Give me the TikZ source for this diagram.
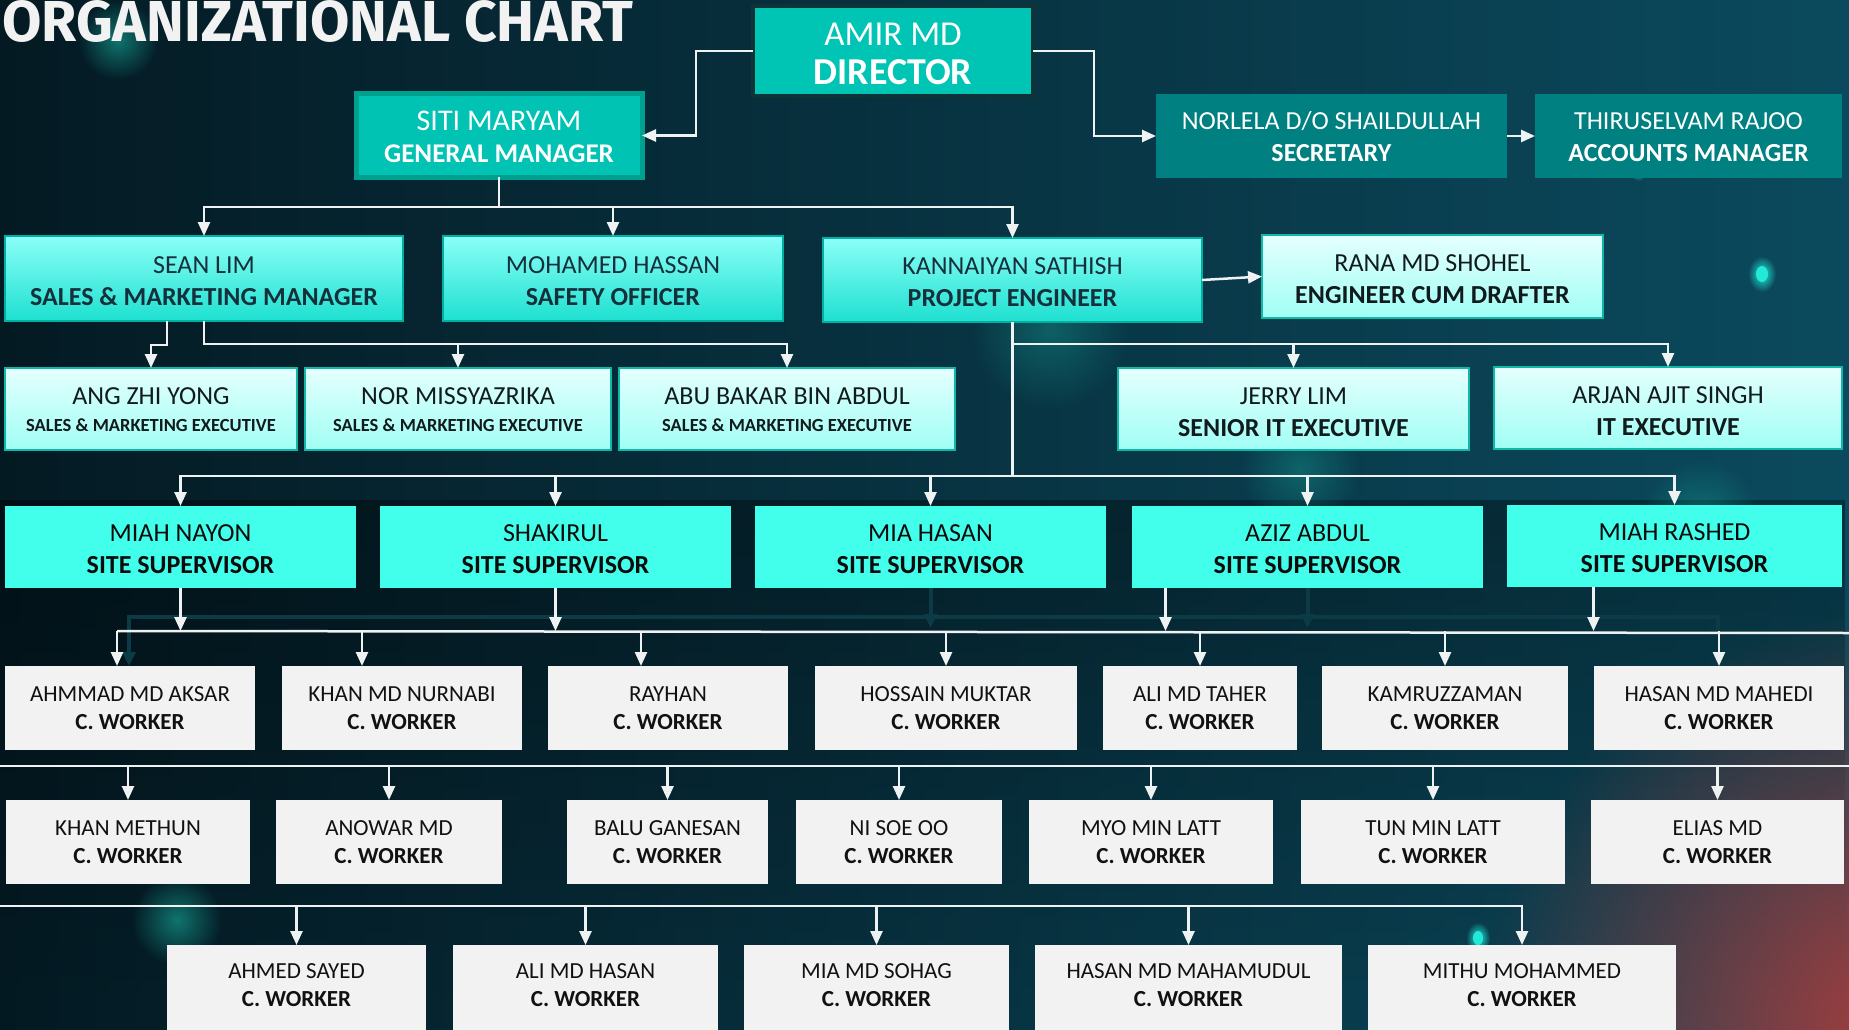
\documentclass[tikz,border=0pt]{standalone}
\usepackage{fontspec}
\usepackage{graphicx}
\setmainfont{Carlito}
\newfontfamily\titlefont{Fira Sans}
\usetikzlibrary{arrows.meta,fadings,calc}
\definecolor{bgL}{HTML}{041A23}
\definecolor{bgR}{HTML}{0B4A5E}
\definecolor{dirF}{HTML}{00C4B4}
\definecolor{dirD}{HTML}{0E3338}
\definecolor{gmF}{HTML}{00C3B3}
\definecolor{gmD}{HTML}{00A08E}
\definecolor{secF}{HTML}{008080}
\definecolor{midT}{HTML}{8AFFF8}
\definecolor{midB}{HTML}{1EE0D0}
\definecolor{midD}{HTML}{00B0A0}
\definecolor{midText}{HTML}{15303A}
\definecolor{litT}{HTML}{E4FFFD}
\definecolor{litB}{HTML}{A0FFF5}
\definecolor{litD}{HTML}{10B8A8}
\definecolor{litText}{HTML}{111A1C}
\definecolor{supF}{HTML}{42FFEC}
\definecolor{supText}{HTML}{0B0B0B}
\definecolor{wF}{HTML}{F2F2F2}
\definecolor{wText}{HTML}{111111}
\definecolor{lineC}{HTML}{EEF2F2}
\definecolor{shadowC}{HTML}{0C3A45}
\definecolor{glowT}{HTML}{18B0A0}
\definecolor{glowR}{HTML}{A83C3C}
\definecolor{dotC}{HTML}{22EAD8}
\tikzfading[name=glowfade, inner color=transparent!0, outer color=transparent!100]
% #1 style prefix, #2 name, #3-#6 corners, #7 name line, #8 title line
\newcommand{\mkbox}[8]{%
  \node[#1box, anchor=north west, minimum width={#5-#3}, minimum height={#6-#4}] (#2) at (#3,#4) {};
  \node[#1txt] (#2-t) at (#2.center) {#7\\#8};}
\newcommand{\extitle}{{\fontsize{18.5}{22}\selectfont\bfseries SALES \& MARKETING EXECUTIVE}}
\newcommand{\cw}{\textbf{C. WORKER}}
\begin{document}
\begin{tikzpicture}[x=1pt,y=-1pt,
  box/.style={inner sep=0pt, outer sep=0pt},
  txt/.style={inner sep=0pt, outer sep=0pt, align=center},
  dirbox/.style={box, fill=dirF, draw=dirD, line width=4pt},
  dirtxt/.style={txt, text=white, font=\fontsize{35}{39}\selectfont, yshift=-3pt},
  gmbox/.style={box, fill=gmF, draw=gmD, line width=5pt},
  gmtxt/.style={txt, text=white, font=\fontsize{30}{32}\selectfont, yshift=-1.5pt},
  secbox/.style={box, fill=secF},
  sectxt/.style={txt, text=white, font=\fontsize{26}{32}\selectfont, yshift=-1pt},
  midbox/.style={box, top color=midT, bottom color=midB, draw=midD, line width=2pt},
  midtxt/.style={txt, text=midText, font=\fontsize{26}{32}\selectfont, yshift=-2.5pt},
  litbox/.style={box, top color=litT, bottom color=litB, draw=litD, line width=2pt},
  littxt/.style={txt, text=litText, font=\fontsize{26}{32}\selectfont, yshift=-3pt},
  execbox/.style={litbox},
  exectxt/.style={txt, text=litText, font=\fontsize{26}{27}\selectfont, yshift=-0.5pt},
  supbox/.style={box, fill=supF},
  suptxt/.style={txt, text=supText, font=\fontsize{26}{32}\selectfont, yshift=-2.5pt},
  wbox/.style={box, fill=wF},
  wtxt/.style={txt, text=wText, font=\fontsize{23}{28}\selectfont},
  line/.style={draw=lineC, line width=2.5pt},
  arr/.style={line, -{Triangle[length=14pt,width=12pt]}},
  shad/.style={draw=shadowC, line width=4pt},
  shadarr/.style={shad, -{Triangle[length=14pt,width=13pt]}}
]
\useasboundingbox (0,0) rectangle (1849,1030);
\clip (0,0) rectangle (1849,1030);
% background
\shade[left color=bgL, right color=bgR] (0,0) rectangle (1849,1030);
\fill[black, fill opacity=0.35, path fading=south] (0,500) rectangle (1849,1030);
\fill[glowR, path fading=glowfade, fill opacity=1] (1900,1030) circle (420);
\fill[glowT, path fading=glowfade, fill opacity=0.6] (118,40) circle (40);
\fill[glowT, path fading=glowfade, fill opacity=0.6] (177,920) circle (45);
\fill[glowT, path fading=glowfade, fill opacity=0.35] (1300,470) circle (60);
\fill[glowT, path fading=glowfade, fill opacity=0.35] (1050,330) circle (80);
\fill[glowT, path fading=glowfade, fill opacity=0.4] (1700,520) circle (60);
\fill[dotC, path fading=glowfade] (1762,274) ellipse (14 and 18);
\fill[dotC] (1762,274) ellipse (6 and 8);
\fill[dotC, path fading=glowfade] (1638,168) ellipse (10 and 13);
\fill[dotC] (1638,168) ellipse (4 and 6);
\fill[dotC, path fading=glowfade] (1478,938) ellipse (12 and 16);
\fill[dotC] (1478,938) ellipse (5 and 7);
% title
\node[anchor=base west, inner sep=0pt, text=wF] (title) at (2,42) {\resizebox{631pt}{41pt}{\titlefont\bfseries ORGANIZATIONAL CHART}};
% boxes
\mkbox{dir}{dir}{753}{6}{1033}{96}{AMIR MD}{{\fontsize{38}{39}\selectfont\bfseries DIRECTOR}}
\mkbox{gm}{gm}{356}{94}{642}{177}{SITI MARYAM}{{\fontsize{27}{32}\selectfont\bfseries GENERAL MANAGER}}
\mkbox{sec}{sec}{1156}{94}{1507}{178}{NORLELA D/O SHAILDULLAH}{\textbf{SECRETARY}}
\mkbox{sec}{acc}{1535}{94}{1842}{178}{THIRUSELVAM RAJOO}{\textbf{ACCOUNTS MANAGER}}
\mkbox{mid}{sean}{5}{236}{403}{321}{SEAN LIM}{\textbf{SALES \& MARKETING MANAGER}}
\mkbox{mid}{mh}{443}{236}{783}{321}{MOHAMED HASSAN}{\textbf{SAFETY OFFICER}}
\mkbox{mid}{kann}{823}{238}{1202}{322}{KANNAIYAN SATHISH}{\textbf{PROJECT ENGINEER}}
\mkbox{lit}{rana}{1262}{235}{1603}{318}{RANA MD SHOHEL}{\textbf{ENGINEER CUM DRAFTER}}
\mkbox{exec}{ang}{5}{368}{297}{450}{ANG ZHI YONG}{\extitle}
\mkbox{exec}{nor}{305}{368}{611}{450}{NOR MISSYAZRIKA}{\extitle}
\mkbox{exec}{abu}{619}{368}{955}{450}{ABU BAKAR BIN ABDUL}{\extitle}
\mkbox{lit}{jerry}{1118}{368}{1469}{450}{JERRY LIM}{\textbf{SENIOR IT EXECUTIVE}}
\mkbox{lit}{arjan}{1494}{367}{1842}{449}{ARJAN AJIT SINGH}{\textbf{IT EXECUTIVE}}
\mkbox{sup}{supa}{5}{506}{356}{588}{MIAH NAYON}{\textbf{SITE SUPERVISOR}}
\mkbox{sup}{supb}{380}{506}{731}{588}{SHAKIRUL}{\textbf{SITE SUPERVISOR}}
\mkbox{sup}{supc}{755}{506}{1106}{588}{MIA HASAN}{\textbf{SITE SUPERVISOR}}
\mkbox{sup}{supd}{1132}{506}{1483}{588}{AZIZ ABDUL}{\textbf{SITE SUPERVISOR}}
\mkbox{sup}{supe}{1507}{505}{1842}{587}{MIAH RASHED}{\textbf{SITE SUPERVISOR}}
% workers row 1
\mkbox{w}{aksar}{5}{666}{255}{750}{AHMMAD MD AKSAR}{\cw}
\mkbox{w}{nurnabi}{282}{666}{522}{750}{KHAN MD NURNABI}{\cw}
\mkbox{w}{rayhan}{548}{666}{788}{750}{RAYHAN}{\cw}
\mkbox{w}{hossain}{815}{666}{1077}{750}{HOSSAIN MUKTAR}{\cw}
\mkbox{w}{taher}{1103}{666}{1297}{750}{ALI MD TAHER}{\cw}
\mkbox{w}{kamru}{1322}{666}{1568}{750}{KAMRUZZAMAN}{\cw}
\mkbox{w}{mahedi}{1594}{666}{1844}{750}{HASAN MD MAHEDI}{\cw}
% workers row 2
\mkbox{w}{methun}{6}{800}{250}{884}{KHAN METHUN}{\cw}
\mkbox{w}{anowar}{276}{800}{502}{884}{ANOWAR MD}{\cw}
\mkbox{w}{balu}{567}{800}{768}{884}{BALU GANESAN}{\cw}
\mkbox{w}{nisoe}{796}{800}{1002}{884}{NI SOE OO}{\cw}
\mkbox{w}{myo}{1029}{800}{1273}{884}{MYO MIN LATT}{\cw}
\mkbox{w}{tun}{1301}{800}{1565}{884}{TUN MIN LATT}{\cw}
\mkbox{w}{elias}{1591}{800}{1844}{884}{ELIAS MD}{\cw}
% workers row 3
\mkbox{w}{sayed}{167}{945}{426}{1025}{AHMED SAYED}{\cw}
\mkbox{w}{alihasan}{453}{945}{718}{1025}{ALI MD HASAN}{\cw}
\mkbox{w}{sohag}{744}{945}{1009}{1025}{MIA MD SOHAG}{\cw}
\mkbox{w}{mahamudul}{1035}{945}{1342}{1025}{HASAN MD MAHAMUDUL}{\cw}
\mkbox{w}{mithu}{1368}{945}{1676}{1025}{MITHU MOHAMMED}{\cw}
% row 3 boxes run on past the bottom edge
\foreach \w in {sayed,alihasan,sohag,mahamudul,mithu} \fill[wF] (\w.south west) rectangle ([yshift=-12pt]\w.south east);
% connectors top
\draw[arr] (dir.west) -- ++(-57,0) |- (gm.east);
\draw[arr] (dir.east) -- ++(61,0) |- (sec.west);
\draw[arr] (sec.east) -- (acc.west);
\draw[line] (gm.south) -- ++(0,30) coordinate (gmj);
\draw[arr] (gmj) -| (sean.north);
\draw[arr] (gmj) -| (mh.north);
\draw[arr] (gmj) -| (kann.north);
\draw[arr] (kann.east) -- (rana.west);
\draw[arr] ([xshift=-37pt]sean.south) -- ++(0,24) -| (ang.north);
\draw[arr] (sean.south) -- ++(0,23) -| (nor.north);
\draw[arr] (sean.south) -- ++(0,23) -| (abu.north);
\draw[arr] (kann.south) -- ++(0,22) -| (jerry.north);
\draw[arr] (kann.south) -- ++(0,22) -| (arjan.north);
\draw[line] (kann.south) -- ++(0,154) coordinate (kj);
\foreach \s in {supa,supb,supc,supd,supe} \draw[arr] (kj) -| (\s.north);
% shadow connectors
\coordinate (sh1) at (129,617);
\draw[shadarr] (1718,631) |- (sh1) -- (aksar.north -| sh1);
\draw[shadarr] (supc.south) -- ++(0,40);
\draw[shadarr] (supd.south) -- ++(0,40);
% supervisor to bar
\coordinate (b1L) at (117,631);
\coordinate (b1R) at (1849,633);
\draw[line] (b1L) -- (b1R);
\draw[arr] (supa.south) -- (supa.south |- b1L);
\draw[arr] (supb.south) -- (supb.south |- b1L);
\draw[arr] ([xshift=-142pt]supd.south) -- ([xshift=-142pt]supd.south |- b1L);
\draw[arr] ([xshift=-81pt]supe.south) -- ([xshift=-81pt]supe.south |- b1L);
% row 1 arrows
\draw[arr] ([xshift=-13pt]aksar.north |- b1L) -- ([xshift=-13pt]aksar.north);
\draw[arr] ([xshift=-40pt]nurnabi.north |- b1L) -- ([xshift=-40pt]nurnabi.north);
\draw[arr] ([xshift=-27pt]rayhan.north |- b1L) -- ([xshift=-27pt]rayhan.north);
\foreach \w in {hossain,taher,kamru,mahedi} \draw[arr] (\w.north |- b1L) -- (\w.north);
% row 2
\coordinate (b2L) at (0,766);
\coordinate (b2R) at (1849,766);
\draw[line] (b2L) -- (b2R);
\foreach \w in {methun,anowar,balu,nisoe,myo,tun,elias} \draw[arr] (\w.north |- b2L) -- (\w.north);
% row 3
\coordinate (b3L) at (0,906);
\draw[arr] (b3L) -| (mithu.north);
\foreach \w in {sayed,alihasan,sohag,mahamudul} \draw[arr] (\w.north |- b3L) -- (\w.north);
\end{tikzpicture}
\end{document}
